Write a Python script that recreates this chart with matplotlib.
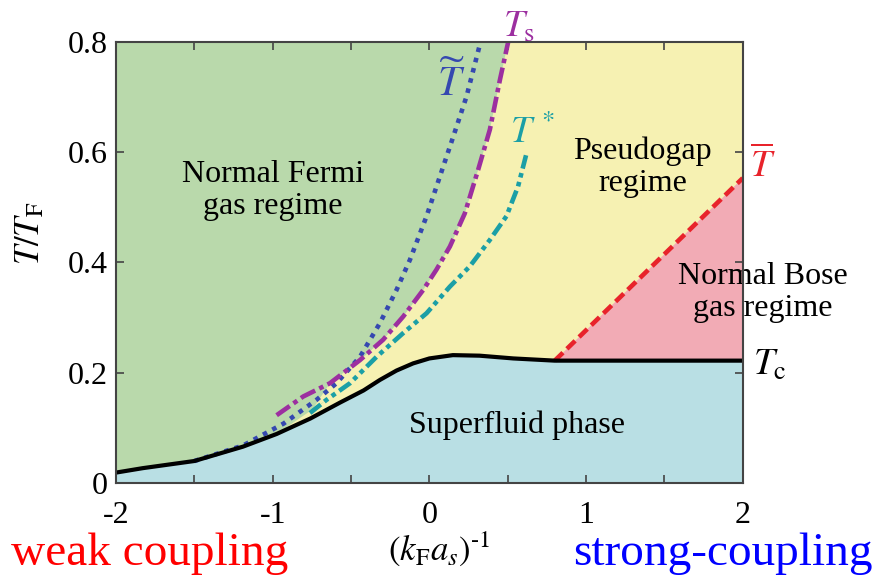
import numpy as np
import matplotlib
matplotlib.use("Agg")
import matplotlib.pyplot as plt

plt.rcParams['font.family'] = ['Liberation Serif', 'DejaVu Serif']
plt.rcParams['mathtext.fontset'] = 'stix'

# critical temperature Tc
tc_x = [-2.0, -1.83, -1.5, -1.19, -0.975, -0.76, -0.57, -0.42, -0.316, -0.21, -0.104, 0.0, 0.15, 0.32, 0.535, 0.8, 1.2, 2.0]
tc_y = [0.019, 0.027, 0.040, 0.066, 0.089, 0.117, 0.146, 0.168, 0.187, 0.204, 0.217, 0.226, 0.232, 0.231, 0.226, 0.222, 0.222, 0.222]

# T tilde (blue dotted)
tt_x = [-1.5, -1.19, -0.93, -0.72, -0.593, -0.443, -0.316, -0.21, -0.124, -0.018, 0.067, 0.152, 0.237, 0.322]
tt_y = [0.040, 0.068, 0.108, 0.151, 0.181, 0.229, 0.290, 0.350, 0.405, 0.484, 0.556, 0.628, 0.701, 0.795]

# Ts (magenta dash-dot)
ts_x = [-0.975, -0.805, -0.635, -0.443, -0.295, -0.167, -0.04, 0.045, 0.131, 0.226, 0.311, 0.386, 0.45, 0.503]
ts_y = [0.123, 0.157, 0.181, 0.223, 0.260, 0.302, 0.350, 0.387, 0.429, 0.489, 0.568, 0.641, 0.731, 0.800]

# T* (teal dash-dot-dot)
tstar_x = [-0.762, -0.656, -0.507, -0.337, -0.167, -0.018, 0.13, 0.258, 0.386, 0.492, 0.566, 0.62]
tstar_y = [0.127, 0.151, 0.181, 0.229, 0.272, 0.308, 0.356, 0.393, 0.441, 0.484, 0.538, 0.598]

# T bar (red dashed)
tb_x = [0.8, 2.0]
tb_y = [0.222, 0.553]

c_green = '#b9d9ab'
c_yellow = '#f6f1b2'
c_pink = '#f2abb5'
c_blue = '#b9dfe4'

fig = plt.figure(figsize=(8.79, 5.82), dpi=100)
ax = fig.add_axes([0.132, 0.170, 0.713, 0.758])
ax.set_facecolor(c_yellow)

tcx = np.array(tc_x)
tcy = np.array(tc_y)
tsx = np.array(ts_x)
tsy = np.array(ts_y)
t2x = np.array(tstar_x)
t2y = np.array(tstar_y)

# superfluid region
ax.fill_between(tcx, 0, tcy, color=c_blue, lw=0, zorder=1)

# normal Bose region
pk_x = np.concatenate([tb_x, tcx[tcx >= 0.8][::-1]])
pk_y = np.concatenate([tb_y, tcy[tcx >= 0.8][::-1]])
ax.fill(pk_x, pk_y, color=c_pink, lw=0, zorder=1)

# normal Fermi region (left of Ts)
m = tsx >= -0.64
gx = np.concatenate([[-2.0, -2.0], tsx[m][::-1], t2x[t2x < -0.6], tcx[tcx <= -0.9][::-1]])
gy = np.concatenate([[tcy[0], 0.8], tsy[m][::-1], t2y[t2x < -0.6], tcy[tcx <= -0.9][::-1]])
ax.fill(gx, gy, color=c_green, lw=0, zorder=1)

ax.plot(tt_x, tt_y, color='#3548b0', lw=3.3, ls=(0, (1, 1.3)), zorder=3)
ax.plot(ts_x, ts_y, color='#9c2fa0', lw=3.3, ls=(0, (3.5, 1, 1, 1)), zorder=3)
ax.plot(tstar_x, tstar_y, color='#1b9fa6', lw=3.3, ls=(0, (3, 1, 1, 1, 1, 1)), zorder=3)
ax.plot(tb_x, tb_y, color='#e8232b', lw=3.3, ls=(0, (2.5, 1.2)), zorder=3)
ax.plot(tc_x, tc_y, color='black', lw=3, zorder=4, solid_joinstyle='round')

ax.set_xlim(-2, 2)
ax.set_ylim(0, 0.8)
ax.set_xticks([-2, -1, 0, 1, 2])
ax.set_xticklabels(['-2', '-1', '0', '1', '2'])
ax.set_xticks([-1.5, -0.5, 0.5, 1.5], minor=True)
ax.set_yticks([0, 0.2, 0.4, 0.6, 0.8])
ax.set_yticklabels(['0', '0.2', '0.4', '0.6', '0.8'])
ax.tick_params(which='both', direction='in', top=True, right=True, length=6,
               width=1.2, color='#444444', labelsize=23)
ax.tick_params(axis='x', pad=13)
ax.tick_params(axis='y', pad=6)
for s in ax.spines.values():
    s.set_color('#444444')
    s.set_linewidth(1.5)
    s.set_zorder(6)

ax.set_ylabel(r'$T/T_{\rm F}$', fontsize=25)
ax.yaxis.set_label_coords(-0.11, 0.567)

# region labels
ax.text(-1.0, 0.53, 'Normal Fermi\ngas regime', fontsize=23, ha='center', va='center',
        linespacing=1.15, zorder=5)
ax.text(1.36, 0.573, 'Pseudogap\nregime', fontsize=23, ha='center', va='center',
        linespacing=1.15, zorder=5)
ax.text(2.13, 0.345, 'Normal Bose\ngas regime', fontsize=23, ha='center', va='center',
        linespacing=1.15, zorder=5, clip_on=False)
ax.text(0.56, 0.105, 'Superfluid phase', fontsize=23, ha='center', va='center', zorder=5)

# curve labels
ax.text(0.14, 0.725, r'$\widetilde{T}$', color='#3548b0', fontsize=30, ha='center', va='center')
ax.text(0.57, 0.825, r'$T_{\rm s}$', color='#9c2fa0', fontsize=27, ha='center', va='center',
        clip_on=False)
ax.text(0.66, 0.635, r'$T^{\,*}$', color='#1b9fa6', fontsize=27, ha='center', va='center')
ax.text(2.13, 0.575, r'$\overline{T}$', color='#e8232b', fontsize=27, ha='center', va='center',
        clip_on=False)
ax.text(2.17, 0.213, r'$T_{\rm c}$', color='black', fontsize=27, ha='center', va='center',
        clip_on=False)

fig.text(0.5, 0.058, r'$(k_{\rm F}a_s)^{\text{-}1}$', fontsize=25, ha='center', va='center')
fig.text(0.012, 0.048, 'weak coupling', color='red', fontsize=34, ha='left', va='center')
fig.text(0.993, 0.048, 'strong-coupling', color='blue', fontsize=34, ha='right', va='center')

fig.savefig('out.png', dpi=100)
